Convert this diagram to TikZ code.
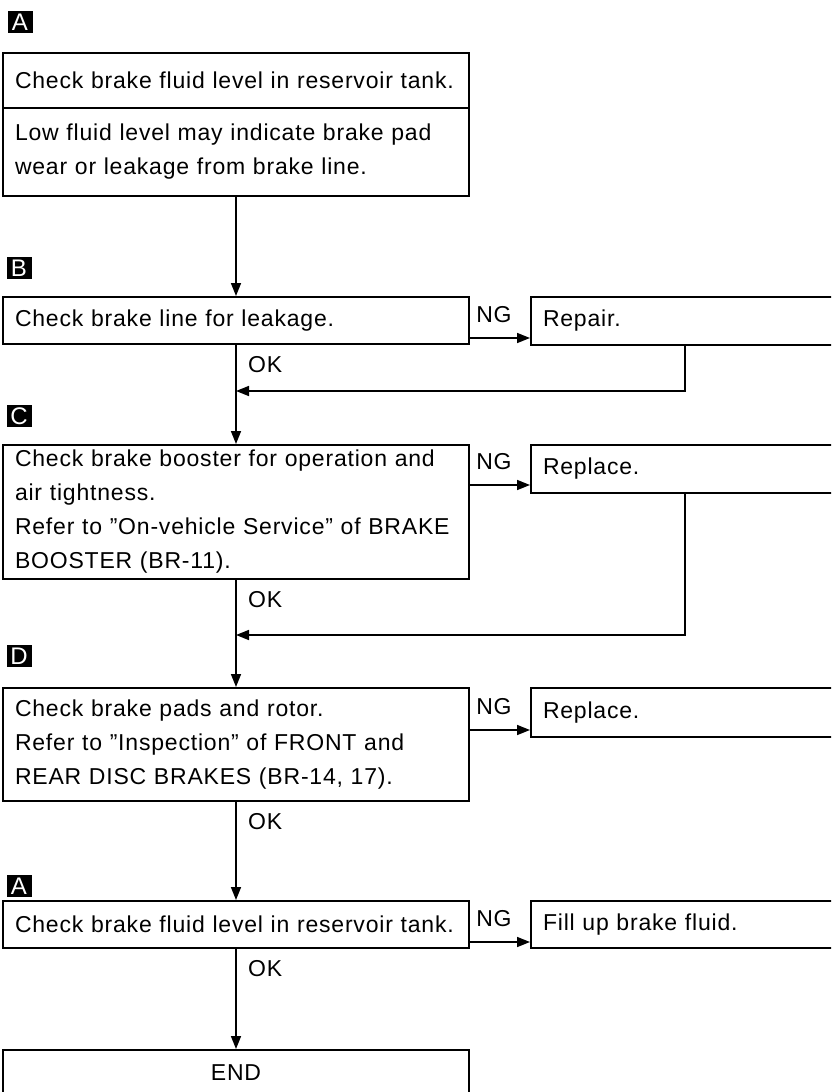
\documentclass[tikz,border=0pt]{standalone}
\usepackage{fontspec}
\setmainfont{Liberation Sans}[LetterSpace=3.5]
\usetikzlibrary{arrows.meta, positioning}

\begin{document}
\begin{tikzpicture}[
    x=1pt, y=-1pt,
    box/.style={rectangle, draw, line width=2pt, anchor=north west,
                text width=442pt, inner xsep=12pt, inner ysep=0pt,
                align=left, font=\fontsize{23}{34}\selectfont},
    side/.style={box, text width=284pt},
    marker/.style={rectangle, fill=black, text=white, minimum width=25pt,
                   minimum height=22pt, inner sep=0pt,
                   font=\fontsize{24}{24}\selectfont},
    arrow/.style={-{Triangle[length=13pt, width=10pt]}, line width=1.6pt},
    ng/.style={font=\fontsize{23}{23}\selectfont, pos=0.4, yshift=23pt},
    ok/.style={font=\fontsize{23}{23}\selectfont, anchor=west,
               xshift=8pt, yshift=-20pt}
]
\useasboundingbox (0,0) rectangle (831,1092);
\clip (0,0) rectangle (831,1092);

% Step A
\node[marker] (mA1) at (20,22) {A};
\node[box, minimum height=55pt] (chk1) at (2,52)
    {Check brake fluid level in reservoir tank.};
\node[box, minimum height=88pt] (low) at (2,107)
    {Low fluid level may indicate brake pad\\wear or leakage from brake line.};

% Step B
\node[marker] (mB) at (19,268) {B};
\node[box, minimum height=47pt] (chkB) at (2,296) {Check brake line for leakage.};
\node[side, minimum height=48pt] (repair) at (530,296) {Repair.};

% Step C
\node[marker] (mC) at (19,416) {C};
\node[box, minimum height=134pt] (chkC) at (2,444)
    {Check brake booster for operation and\\air tightness.\\Refer to ''On-vehicle Service'' of BRAKE\\BOOSTER (BR-11).};
\node[side, minimum height=48pt] (rep1) at (530,444) {Replace.};

% Step D
\node[marker] (mD) at (19,656) {D};
\node[box, minimum height=113pt] (chkD) at (2,687)
    {Check brake pads and rotor.\\Refer to ''Inspection'' of FRONT and\\REAR DISC BRAKES (BR-14, 17).};
\node[side, minimum height=49pt] (rep2) at (530,687) {Replace.};

% Step A again
\node[marker] (mA2) at (19,886) {A};
\node[box, minimum height=47pt] (chk5) at (2,900)
    {Check brake fluid level in reservoir tank.};
\node[side, minimum height=47pt] (fillup) at (530,900) {Fill up brake fluid.};
\node[box, minimum height=46pt, align=center] (finish) at (2,1049) {END};

% Junctions of the return lines
\coordinate (jB) at (chkB.south |- 0,391);
\coordinate (jC) at (chkC.south |- 0,635);
\coordinate (nB) at ([yshift=8pt]repair.south west);
\coordinate (nC) at ([yshift=9pt]rep1.south west);
\coordinate (nD) at ([yshift=8pt]rep2.south west);
\coordinate (nA) at ([yshift=7pt]fillup.south west);

% OK path
\draw[arrow] (low.south) -- (chkB.north);
\draw[arrow] (chkB.south) -- (chkC.north) node[ok, at start] {OK};
\draw[arrow] (chkC.south) -- (chkD.north) node[ok, at start] {OK};
\draw[arrow] (chkD.south) -- (chk5.north) node[ok, at start] {OK};
\draw[arrow] (chk5.south) -- (finish.north) node[ok, at start] {OK};

% NG path
\draw[arrow] (chkB.east |- nB) -- (nB) node[ng] {NG};
\draw[arrow] (chkC.east |- nC) -- (nC) node[ng] {NG};
\draw[arrow] (chkD.east |- nD) -- (nD) node[ng] {NG};
\draw[arrow] (chk5.east |- nA) -- (nA) node[ng] {NG};

% Back to main line
\draw[arrow] (repair.south) |- (jB);
\draw[arrow] (rep1.south) |- (jC);

\end{tikzpicture}
\end{document}
